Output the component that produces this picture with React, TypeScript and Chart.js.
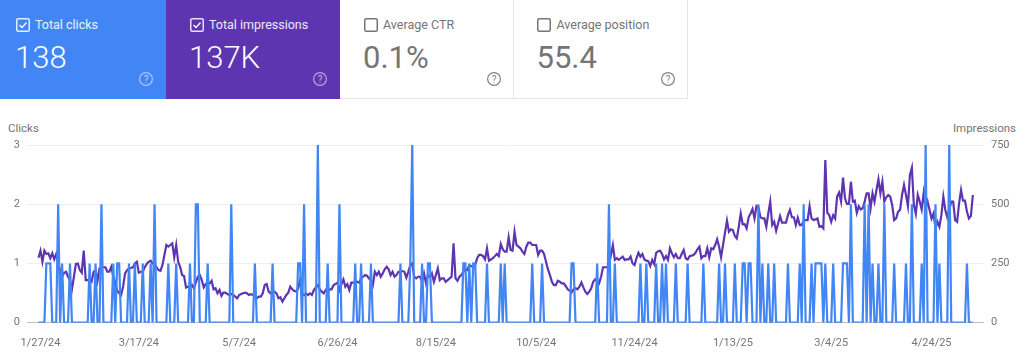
import React, { useEffect, useRef } from "react";
import { Chart, registerables } from "chart.js";

Chart.register(...registerables);

const impressionsA = [
  274,304,257,304,290,293,272,293,267,290,
  250,222,194,211,215,194,180,141,194,248,
  250,222,211,304,180,180,180,173,215,222,
  177,229,234,234,234,215,215,236,194,173,
  135,124,117,152,208,222,229,231,234,250,257,
  211,215,215,234,248,257,262,250,248,234,
  222,219,243,286,328,321,328,335,276,328,
  257,236,201,197,149,152,149,159,145,170,194,
  201,180,149,163,169,166,177,141,145,124,
  138,113,127,127,121,117,121,117,110,103,
  117,121,124,127,124,117,120,117,
  117,103,110,110,124,159,163,131,124,134,
];
const impressionsB = [
  131,124,103,107,89,103,117,127,152,141,
  134,132,145,180,124,117,124,117,124,117,
  138,149,159,141,131,124,138,131,141,141,
  159,163,169,138,163,183,152,163,138,169,
  169,169,173,169,187,194,201,198,187,180,
  159,215,201,215,194,208,225,236,225,201,
  215,194,201,215,215,218,215,190,215,243,
  250,194,187,194,194,173,208,166,201,194,
  208,173,201,229,180,187,187,173,180,187,
  194,335,187,177,194,201,215,225,222,243,238,
  236,243,272,286,286,281,267,314,262,267,
  272,281,290,281,332,310,300,300,360,307,
  304,384,328,321,
];
const impressionsC = [
  314,300,290,321,338,338,328,328,328,286,
  304,304,290,257,225,201,173,159,159,177,
  173,166,166,155,141,135,127,141,145,141,
  152,170,149,131,121,131,145,173,183,177,
  166,194,234,234,234,243,286,328,265,272,
  265,272,279,265,267,267,279,250,243,272,
  295,279,290,267,262,260,239,265,248,295,
  302,304,290,267,281,265,314,293,276,290,
  272,272,290,307,272,267,281,283,286,295,
  310,321,272,281,281,314,276,314,310,328,
  352,321,276,328,380,431,384,394,391,366,
  356,405,461,415,416,398,445,461,480,440,
  492,
];
const impressionsD = [
  487,445,440,440,405,461,511,412,426,388,
  419,450,422,422,422,454,476,445,445,412,
  443,412,412,431,433,433,492,440,433,436,
  440,405,408,398,687,464,454,426,454,440,
  532,549,511,612,525,501,501,595,511,515,
  464,492,478,483,511,546,546,483,546,511,
  560,606,546,595,511,529,539,532,497,433,
  440,469,476,539,581,539,492,623,654,497,
  459,539,511,478,546,483,511,476,440,461,
  398,426,405,454,532,476,445,476,511,511,
  433,426,504,560,515,515,469,440,450,539,
];
const impressions = [...impressionsA, ...impressionsB, ...impressionsC, ...impressionsD];

const daysWithOneClick = [
  4,5,6,12,16,26,29,38,40,41,46,49,53,57,66,70,77,86,110,119,
  132,133,147,161,164,169,184,189,195,198,199,216,217,219,221,222,228,235,237,
  251,256,271,272,284,293,306,309,314,317,319,324,330,338,346,349,354,358,359,361,362,
  368,371,374,381,387,393,395,396,397,398,400,404,409,410,411,424,427,435,441,449,458,472,
];
const daysWithTwoClicks = [10,32,59,80,81,98,135,153,290,366,389,413,420,422,430,444,456];
const daysWithThreeClicks = [142,190,451,463];

const clicks = impressions.map((_, day) =>
  daysWithThreeClicks.includes(day) ? 3 : daysWithTwoClicks.includes(day) ? 2 : daysWithOneClick.includes(day) ? 1 : 0
);

const dayIndexes = [1, 51, 102, 152, 202, 253, 303, 353, 403, 454];
const dayLabels = ["1/27/24", "3/17/24", "5/7/24", "6/26/24", "8/15/24", "10/5/24", "11/24/24", "1/13/25", "3/4/25", "4/24/25"];
const clickTicks = [0, 1, 2, 3];
const impressionTicks = [0, 250, 500, 750];

const cards = [
  { title: "Total clicks", value: "138", bg: "#4285f4", fg: "#ffffff", left: 0, width: 166, inset: 15.5, checked: true },
  { title: "Total impressions", value: "137K", bg: "#5e35b1", fg: "#ffffff", left: 166, width: 174, inset: 23.5, checked: true },
  { title: "Average CTR", value: "0.1%", bg: "#ffffff", fg: "#757575", left: 340, width: 174, inset: 23.5, checked: false },
  { title: "Average position", value: "55.4", bg: "#ffffff", fg: "#757575", left: 514, width: 174, inset: 23, checked: false },
];

const FONT = "Roboto, sans-serif";

function Card(c: (typeof cards)[number]) {
  const active = c.checked;
  return (
    <div
      style={{
        position: "absolute", left: c.left, top: 0, width: c.width, height: 98.5, background: c.bg, color: c.fg,
        boxSizing: "border-box", borderRight: active ? "none" : "1px solid #e6e6e6", borderBottom: active ? "none" : "1px solid #e6e6e6",
      }}
    >
      <svg width="14" height="14" style={{ position: "absolute", left: c.inset, top: 17.5 }}>
        <rect x="0.75" y="0.75" width="12.5" height="12.5" rx="1.5" fill="none" stroke={c.fg} strokeWidth="1.5" opacity={active ? 0.85 : 1} />
        {active ? <path d="M3.5 7 L6 9.5 L10.5 4.5" fill="none" stroke={c.fg} strokeWidth="1.3" /> : null}
      </svg>
      <span style={{ position: "absolute", left: c.inset + 19.5, top: 16, fontSize: 12.5, lineHeight: "17px", whiteSpace: "nowrap", opacity: active ? 0.9 : 1 }}>{c.title}</span>
      <span style={{ position: "absolute", left: c.inset - 0.5, top: 40, fontSize: 31, lineHeight: "36px", fontWeight: active ? 300 : 400, whiteSpace: "nowrap" }}>{c.value}</span>
      <svg width="16" height="16" style={{ position: "absolute", left: c.width - 28, top: 71 }}>
        <circle cx="8" cy="8" r="6.4" fill="none" stroke={c.fg} strokeWidth="1.2" opacity={active ? 0.55 : 0.9} />
        <text x="8" y="11.5" textAnchor="middle" fontSize="10" fontFamily={FONT} fill={c.fg} opacity={active ? 0.6 : 0.9}>?</text>
      </svg>
    </div>
  );
}

export default function App() {
  const ref = useRef<HTMLCanvasElement | null>(null);

  useEffect(() => {
    document.body.style.margin = "0";
    const tickFont = { family: FONT, size: 11 };
    const chart = new Chart(ref.current!, {
      type: "line",
      data: {
        labels: impressions.map((_, i) => i),
        datasets: [
          { label: "Clicks", data: clicks.map((y, x) => ({ x, y })), yAxisID: "y", borderColor: "#4285f4", borderWidth: 2.2, pointRadius: 0, tension: 0, fill: false },
          { label: "Impressions", data: impressions.map((y, x) => ({ x, y })), yAxisID: "y1", borderColor: "#5e35b1", borderWidth: 2.2, pointRadius: 0, tension: 0, fill: false },
        ],
      },
      options: {
        animation: false,
        responsive: false,
        layout: { padding: { top: 145, left: 0, right: 0, bottom: 0 } },
        plugins: { legend: { display: false }, tooltip: { enabled: false } },
        scales: {
          x: {
            type: "linear",
            min: -5.85,
            max: 480.67,
            grid: { display: false, drawTicks: false },
            border: { display: false },
            afterBuildTicks: (s: any) => { s.ticks = dayIndexes.map((value) => ({ value })); },
            afterFit: (s: any) => { s.height = 35.3; },
            ticks: {
              autoSkip: false, maxRotation: 0, minRotation: 0, padding: 14, color: "#757575", font: tickFont,
              callback: (v: any) => dayLabels[dayIndexes.indexOf(Number(v))] ?? "",
            },
          },
          y: {
            position: "left",
            min: 0,
            max: 3,
            afterBuildTicks: (s: any) => { s.ticks = clickTicks.map((value) => ({ value })); },
            afterFit: (s: any) => { s.width = 27; },
            border: { display: false },
            grid: { drawTicks: false, color: (c: any) => (c.tick.value === 0 ? "#bdbdbd" : "#eeeeee"), lineWidth: 1 },
            ticks: { color: "#757575", font: tickFont, padding: 7 },
          },
          y1: {
            position: "right",
            min: 0,
            max: 750,
            afterBuildTicks: (s: any) => { s.ticks = impressionTicks.map((value) => ({ value })); },
            afterFit: (s: any) => { s.width = 40; },
            border: { display: false },
            grid: { display: false, drawTicks: false },
            ticks: { color: "#757575", font: tickFont, padding: 7 },
          },
        },
      },
    } as any);
    return () => chart.destroy();
  }, []);

  return (
    <div style={{ position: "relative", width: 1024, height: 358, overflow: "hidden", background: "#fff", fontFamily: FONT }}>
      {cards.map((c) => <Card key={c.title} {...c} />)}
      <span style={{ position: "absolute", left: 8, top: 121, fontSize: 11.5, lineHeight: "15px", color: "#757575" }}>Clicks</span>
      <span style={{ position: "absolute", right: 8, top: 121, fontSize: 11.5, lineHeight: "15px", color: "#757575" }}>Impressions</span>
      <canvas ref={ref} width={1024} height={358} style={{ position: "absolute", left: 0, top: 0, display: "block" }} />
    </div>
  );
}
